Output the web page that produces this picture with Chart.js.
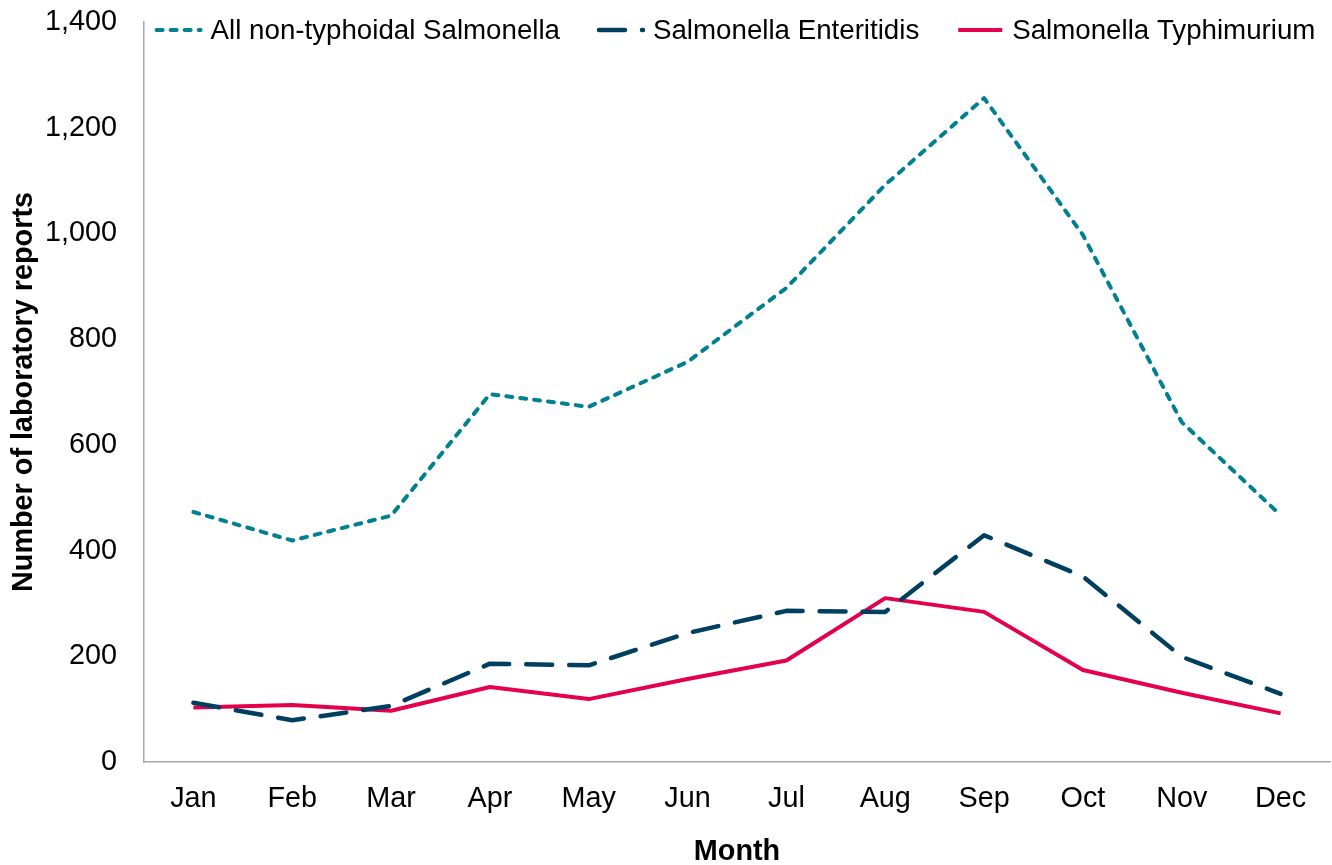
<!DOCTYPE html>
<html><head><meta charset="utf-8">
<script src="https://cdn.jsdelivr.net/npm/chart.js@4/dist/chart.umd.min.js"></script>
<style>html,body{margin:0;padding:0;background:#fff}#wrap{width:1332px;height:865px;position:relative}</style>
</head><body><div id="wrap"><canvas id="c"></canvas></div>
<script>
const months = ['Jan','Feb','Mar','Apr','May','Jun','Jul','Aug','Sep','Oct','Nov','Dec'];
const allNonTyphoidal = [473,419,466,696,672,757,897,1092,1256,997,643,467];
const enteritidis = [112,79,106,186,183,244,286,284,429,351,199,129];
const typhimurium = [103,108,97,142,119,157,192,310,284,174,131,92];
const yTicks = [0,200,400,600,800,1000,1200,1400];

const font = "'Liberation Sans', Arial, sans-serif";

const inlineLegend = {
  id: 'inlineLegend',
  afterDraw(chart) {
    const ctx = chart.ctx, ca = chart.chartArea;
    const sampleW = 48, textGap = 8, itemGap = 37, y = 30;
    ctx.save();
    ctx.font = "27.7px " + font;
    const items = chart.data.datasets.map(ds => ({ds, tw: ctx.measureText(ds.label).width}));
    const total = items.reduce((s, it) => s + sampleW + textGap + it.tw, 0) + itemGap * (items.length - 1);
    let x = (ca.left + ca.right) / 2 - total / 2 - 2;
    items.forEach(it => {
      const ds = it.ds;
      ctx.beginPath();
      ctx.strokeStyle = ds.borderColor;
      ctx.lineWidth = ds.borderWidth;
      ctx.lineCap = ds.borderCapStyle || 'butt';
      ctx.setLineDash(ds.borderDash || []);
      ctx.moveTo(x + 2, y);
      ctx.lineTo(x + sampleW - 2, y);
      ctx.stroke();
      ctx.setLineDash([]);
      ctx.fillStyle = '#000';
      ctx.textBaseline = 'middle';
      ctx.textAlign = 'left';
      ctx.fillText(ds.label, x + sampleW + textGap, y + 1);
      x += sampleW + textGap + it.tw + itemGap;
    });
    ctx.restore();
  }
};

new Chart(document.getElementById('c'), {
  type: 'line',
  data: {
    labels: months,
    datasets: [
      {label:'All non-typhoidal Salmonella', data: allNonTyphoidal, borderColor:'#008090', backgroundColor:'#008090', borderWidth:4, borderDash:[6,8], borderCapStyle:'round', borderJoinStyle:'round', pointRadius:0, tension:0},
      {label:'Salmonella Enteritidis', data: enteritidis, borderColor:'#003F5F', backgroundColor:'#003F5F', borderWidth:4.5, borderDash:[26,17], borderCapStyle:'round', borderJoinStyle:'round', pointRadius:0, tension:0},
      {label:'Salmonella Typhimurium', data: typhimurium, borderColor:'#E5004B', backgroundColor:'#E5004B', borderWidth:4, borderJoinStyle:'round', pointRadius:0, tension:0}
    ]
  },
  options: {
    responsive:true, maintainAspectRatio:false, animation:false,
    layout:{padding:{top:0,right:2,left:0,bottom:0}},
    plugins:{ legend:{display:false}, tooltip:{enabled:false} },
    scales:{
      x:{offset:true, grid:{display:false, drawTicks:false}, border:{color:'#A6A6A6', width:1.5},
         afterFit:(s)=>{ s.height = 865 - 762; },
         ticks:{font:{family:font,size:28.8}, color:'#000', padding:20, maxRotation:0},
         title:{display:true, text:'Month', font:{family:font,size:28.8,weight:'bold'}, color:'#000', padding:{top:0,bottom:-4}}},
      y:{min:0, max:1400, afterBuildTicks:(s)=>{s.ticks=yTicks.map(v=>({value:v}));},
         afterFit:(s)=>{ s.width = 144; s.paddingTop = 22; s.paddingBottom = 0; },
         grid:{display:false, drawTicks:false}, border:{color:'#A6A6A6', width:1.5},
         ticks:{font:{family:font,size:28.8}, color:'#000', padding:27, callback:(v)=>v.toLocaleString('en-US')},
         title:{display:true, text:'Number of laboratory reports', font:{family:font,size:28.8,weight:'bold'}, color:'#000', padding:{top:7,bottom:0}}}
    }
  },
  plugins:[inlineLegend]
});
</script></body></html>
